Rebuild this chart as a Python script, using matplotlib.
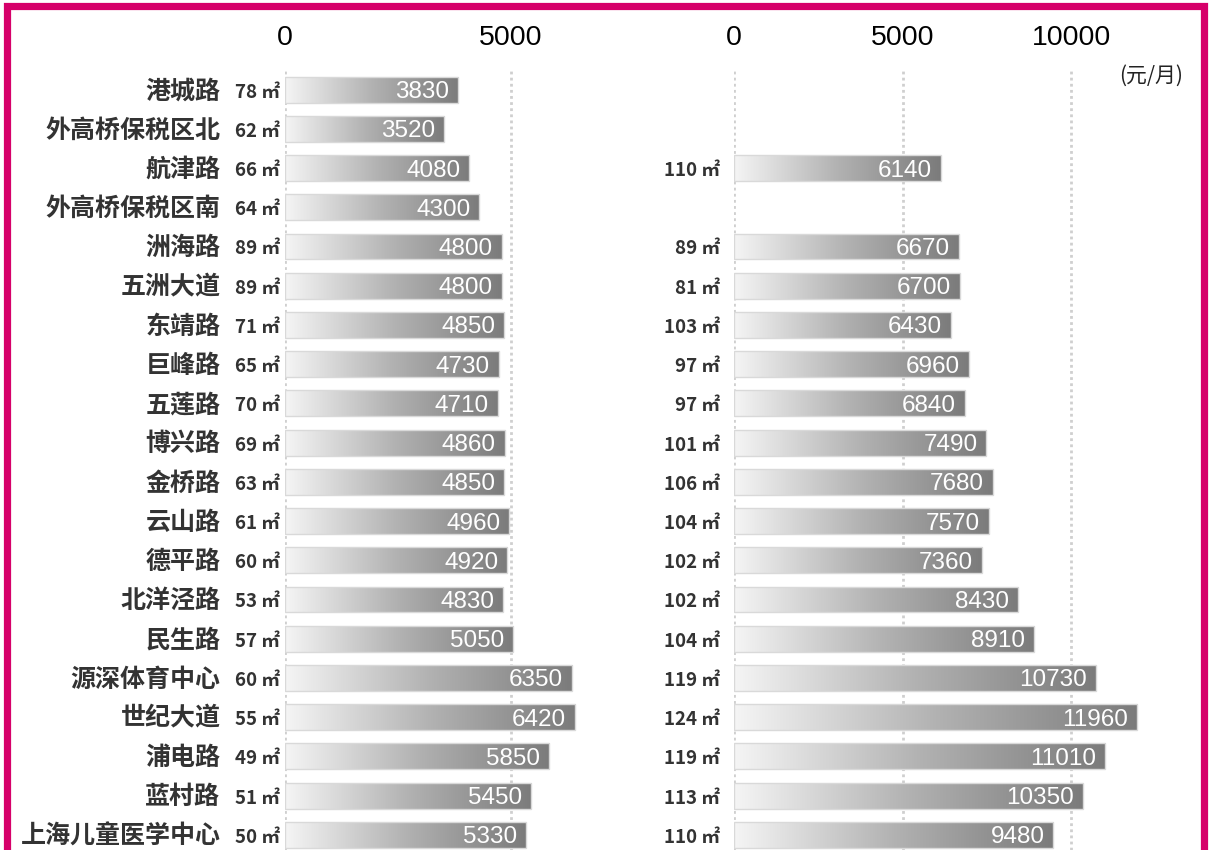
import numpy as np
import matplotlib
matplotlib.use("Agg")
import matplotlib.pyplot as plt
from matplotlib.colors import LinearSegmentedColormap
from matplotlib.patches import Rectangle

plt.rcParams['font.family'] = ['Noto Sans CJK SC', 'DejaVu Sans']

# 站点名称
stations = ["港城路", "外高桥保税区北", "航津路", "外高桥保税区南", "洲海路",
            "五洲大道", "东靖路", "巨峰路", "五莲路", "博兴路",
            "金桥路", "云山路", "德平路", "北洋泾路", "民生路",
            "源深体育中心", "世纪大道", "浦电路", "蓝村路", "上海儿童医学中心"]

# 左栏: 面积 / 租金
left_area = [78, 62, 66, 64, 89, 89, 71, 65, 70, 69, 63, 61, 60, 53, 57, 60, 55, 49, 51, 50]
left_rent = [3830, 3520, 4080, 4300, 4800, 4800, 4850, 4730, 4710, 4860,
             4850, 4960, 4920, 4830, 5050, 6350, 6420, 5850, 5450, 5330]

# 右栏: 面积 / 租金 (None = 无数据)
right_area = [None, None, 110, None, 89, 81, 103, 97, 97, 101,
              106, 104, 102, 102, 104, 119, 124, 119, 113, 110]
right_rent = [None, None, 6140, None, 6670, 6700, 6430, 6960, 6840, 7490,
              7680, 7570, 7360, 8430, 8910, 10730, 11960, 11010, 10350, 9480]

left_ticks = [0, 5000]
right_ticks = [0, 5000, 10000]
unit_label = "(元/月)"

W, H = 1210, 850
fig = plt.figure(figsize=(W / 100, H / 100), dpi=100)
fig.patch.set_facecolor("white")

cmap = LinearSegmentedColormap.from_list("bar", ["#f5f5f5", "#b2b2b2", "#7b7b7b"])
grad = np.linspace(0, 1, 256).reshape(1, -1)


def px_axes(x0, x1, y0, y1):
    return fig.add_axes([x0 / W, 1 - y1 / H, (x1 - x0) / W, (y1 - y0) / H])


def draw_panel(ax, areas, rents, ticks, xmax, area_off):
    n = len(stations)
    ax.set_yticks([])
    ax.xaxis.tick_top()
    ax.set_xticks(ticks)
    ax.set_xticklabels([str(t) for t in ticks], family="Liberation Sans", fontsize=20.5)
    ax.tick_params(axis="x", length=0, pad=14)
    ax.grid(axis="x", ls=(0, (1, 1.2)), color="#cfcfcf", lw=2)
    ax.set_axisbelow(True)
    for s in ax.spines.values():
        s.set_visible(False)

    for i, (a, v) in enumerate(zip(areas, rents)):
        if v is None:
            continue
        bar = ax.barh(i, v, height=0.66, fc="none", ec="#d9d9d9", lw=1, zorder=3)[0]
        im = ax.imshow(grad, cmap=cmap, aspect="auto", zorder=2,
                       extent=[0, v, i + 0.33, i - 0.33], interpolation="bilinear")
        im.set_clip_path(bar)
        ax.annotate(str(v), xy=(v, i), xytext=(-6.5, -1.8), textcoords="offset points",
                    ha="right", va="center", color="white", fontsize=17.5,
                    family="Liberation Sans", zorder=4)
        ax.annotate(f"{a} ㎡", xy=(0, i), xycoords=("axes fraction", "data"),
                    xytext=(area_off, -1.8), textcoords="offset points",
                    ha="right", va="center", fontsize=13.5, fontweight="bold",
                    color="#333333")
    ax.set_xlim(0, xmax)
    ax.set_ylim(n - 1 + 15.2 / 39.2, -0.5)


ax_l = px_axes(285, 285 + 6500 * 226 / 5000, 70, 850)
draw_panel(ax_l, left_area, left_rent, left_ticks, 6500, -3.5)
for i, name in enumerate(stations):
    ax_l.annotate(name, xy=(0, i), xycoords=("axes fraction", "data"),
                  xytext=(-46.5, -1.2), textcoords="offset points",
                  ha="right", va="center", fontsize=18, fontweight="bold",
                  color="#333333")

ax_r = px_axes(734, 734 + 13000 * 168.5 / 5000, 70, 850)
draw_panel(ax_r, right_area, right_rent, right_ticks, 13000, -10)

fig.text(1183 / W, 1 - 76 / H, unit_label, ha="right", va="center",
         fontsize=15, color="#222222")

# 外框
fig.patches.append(Rectangle((6.5 / W, -0.1), (1203.5 - 6.5) / W, 1.1 - 6.5 / H,
                             transform=fig.transFigure, fill=False,
                             ec="#d6006a", lw=5.2, zorder=10))

fig.savefig("out.png", dpi=100)
